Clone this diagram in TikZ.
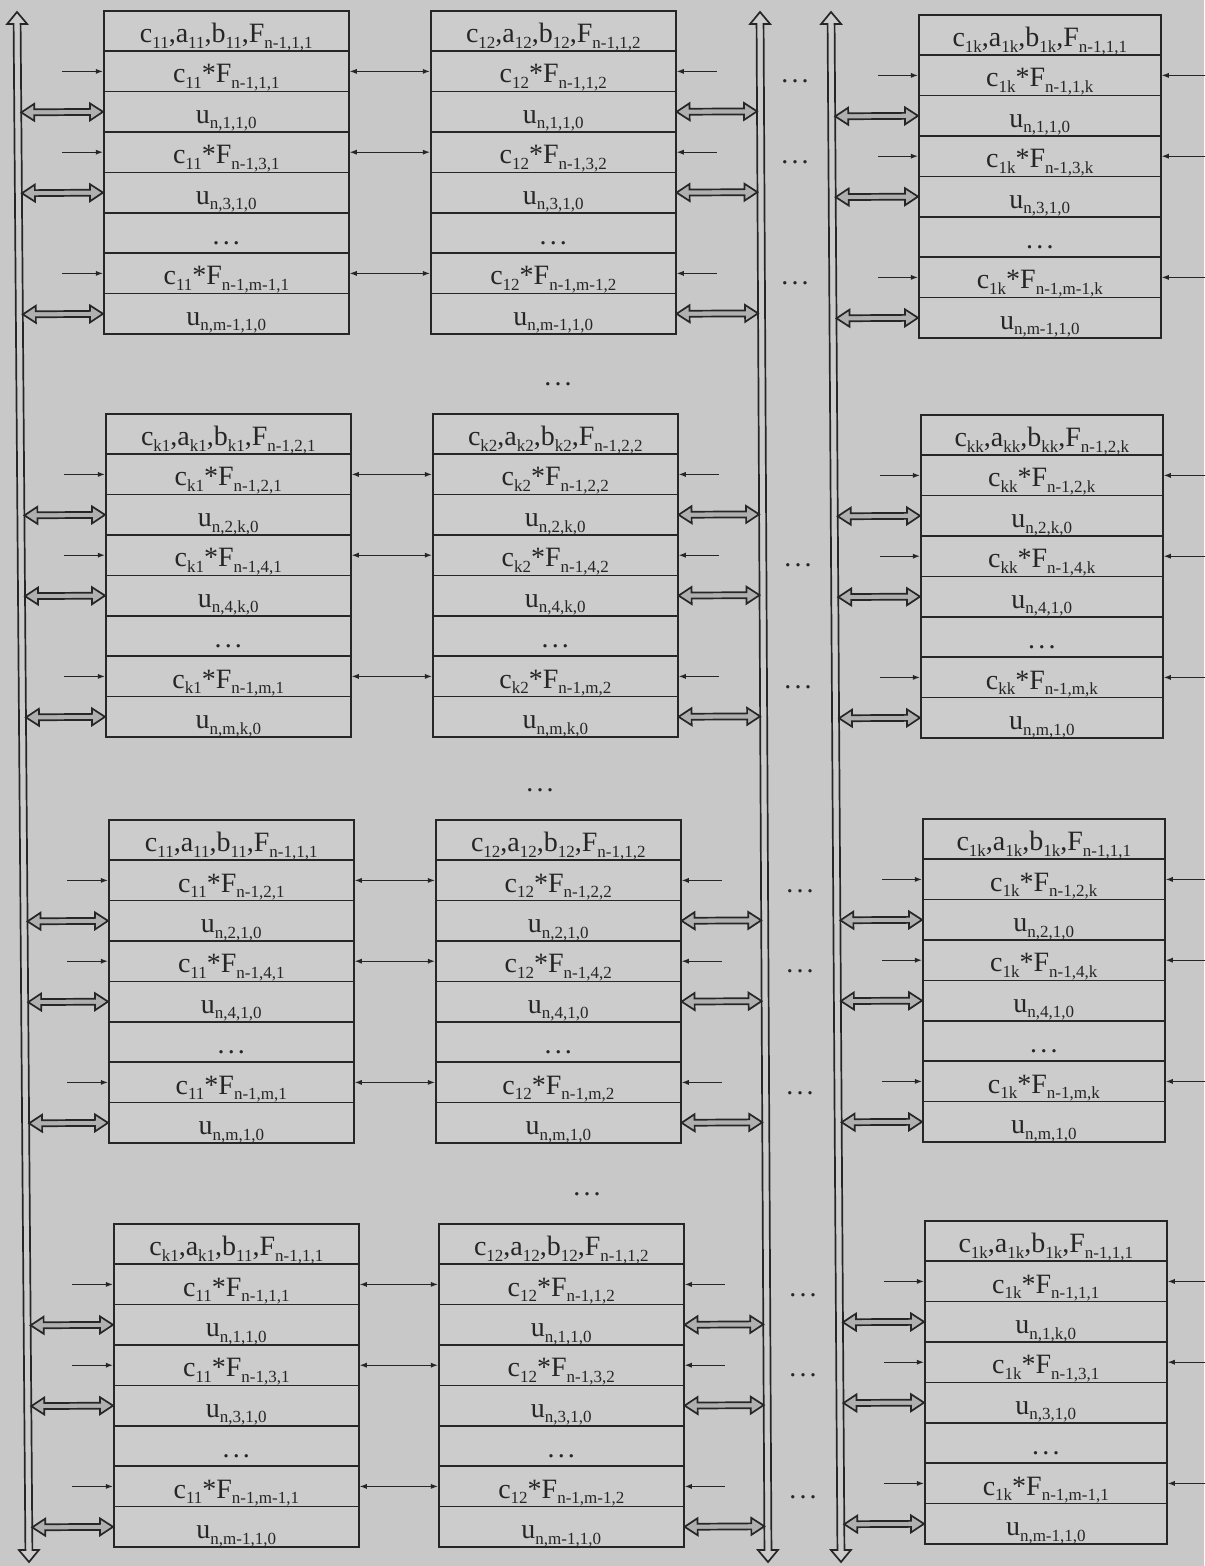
\documentclass[tikz,border=0pt]{standalone}
\usepackage{fontspec}
\setmainfont{Liberation Serif}
\usetikzlibrary{calc,arrows.meta}
\definecolor{bg}{HTML}{C8C8C8}
\definecolor{cellc}{HTML}{CCCCCC}
\definecolor{ink}{HTML}{262626}
\definecolor{hfill}{HTML}{B0B0B0}
\newcommand\sbs[1]{\raisebox{-2.8pt}{\fontsize{8.5}{9}\selectfont #1}}
\newcommand\ddd{.\kern1.6pt.\kern1.6pt.}
\newcommand\blk[5]{%
  \foreach \t [count=\i] in {#5}{%
    \node[cellbox, minimum width=#4*0.5pt, anchor=north west] (#1-\i) at (#2,{#3+40.4*(\i-1)}) {\t};
  }}
\tikzset{
  cellbox/.style={draw=ink, line width=0.8pt, fill=cellc, inner sep=0pt, minimum height=20.2pt,
    text height=12pt, text depth=0.4pt, text=ink, font=\fontsize{14}{16}\selectfont},
  thinarr/.style={draw=ink, line width=0.6pt, -{Latex[length=3.6pt,width=2.6pt]}},
  thinboth/.style={draw=ink, line width=0.6pt, {Latex[length=3.6pt,width=2.6pt]}-{Latex[length=3.6pt,width=2.6pt]}},
  dotnode/.style={text=ink, font=\fontsize{14}{16}\selectfont, inner sep=0pt, anchor=base},
  hollow/.style n args={3}{draw=ink, fill=hfill, line width=0.85pt, line join=miter,
    to path={-- ($(\tikztostart)!#1!(\tikztotarget)!#2!90:(\tikztotarget)$)
      -- ($(\tikztostart)!#1!(\tikztotarget)!#3!90:(\tikztotarget)$)
      -- ($(\tikztotarget)!#1!(\tikztostart)!#3!-90:(\tikztostart)$)
      -- ($(\tikztotarget)!#1!(\tikztostart)!#2!-90:(\tikztostart)$)
      -- (\tikztotarget)
      -- ($(\tikztotarget)!#1!(\tikztostart)!#2!90:(\tikztostart)$)
      -- ($(\tikztotarget)!#1!(\tikztostart)!#3!90:(\tikztostart)$)
      -- ($(\tikztostart)!#1!(\tikztotarget)!#3!-90:(\tikztotarget)$)
      -- ($(\tikztostart)!#1!(\tikztotarget)!#2!-90:(\tikztotarget)$)
      -- cycle}},
  hollowh/.style={hollow={6.5pt}{4.25pt}{1.5pt}},
  busarr/.style={hollow={6pt}{5pt}{1.75pt}, fill=cellc},
}
\begin{document}
\begin{tikzpicture}[x=0.5pt,y=-0.5pt]
\useasboundingbox (0,0) rectangle (1204,1566);
\fill[bg] (0,0) rectangle (1204,1566);

% buses
\coordinate (busAtop) at (17,12);   \coordinate (busAbot) at (29,1562);
\coordinate (busBtop) at (760,12);  \coordinate (busBbot) at (768,1562);
\coordinate (busCtop) at (831,12);  \coordinate (busCbot) at (841,1562);
\draw[busarr] (busAtop) to (busAbot);
\draw[busarr] (busBtop) to (busBbot);
\draw[busarr] (busCtop) to (busCbot);
\coordinate (rim) at (1210,0);

% row 1
\blk{B11}{103}{10}{245}{{c\sbs{11},a\sbs{11},b\sbs{11},F\sbs{n-1,1,1}},{c\sbs{11}*F\sbs{n-1,1,1}},{u\sbs{n,1,1,0}},{c\sbs{11}*F\sbs{n-1,3,1}},{u\sbs{n,3,1,0}},\ddd,{c\sbs{11}*F\sbs{n-1,m-1,1}},{u\sbs{n,m-1,1,0}}}
\blk{B12}{430}{10}{245}{{c\sbs{12},a\sbs{12},b\sbs{12},F\sbs{n-1,1,2}},{c\sbs{12}*F\sbs{n-1,1,2}},{u\sbs{n,1,1,0}},{c\sbs{12}*F\sbs{n-1,3,2}},{u\sbs{n,3,1,0}},\ddd,{c\sbs{12}*F\sbs{n-1,m-1,2}},{u\sbs{n,m-1,1,0}}}
\blk{B13}{918}{14}{242}{{c\sbs{1k},a\sbs{1k},b\sbs{1k},F\sbs{n-1,1,1}},{c\sbs{1k}*F\sbs{n-1,1,k}},{u\sbs{n,1,1,0}},{c\sbs{1k}*F\sbs{n-1,3,k}},{u\sbs{n,3,1,0}},\ddd,{c\sbs{1k}*F\sbs{n-1,m-1,k}},{u\sbs{n,m-1,1,0}}}
% row 2
\blk{B21}{105}{413}{245}{{c\sbs{k1},a\sbs{k1},b\sbs{k1},F\sbs{n-1,2,1}},{c\sbs{k1}*F\sbs{n-1,2,1}},{u\sbs{n,2,k,0}},{c\sbs{k1}*F\sbs{n-1,4,1}},{u\sbs{n,4,k,0}},\ddd,{c\sbs{k1}*F\sbs{n-1,m,1}},{u\sbs{n,m,k,0}}}
\blk{B22}{432}{413}{245}{{c\sbs{k2},a\sbs{k2},b\sbs{k2},F\sbs{n-1,2,2}},{c\sbs{k2}*F\sbs{n-1,2,2}},{u\sbs{n,2,k,0}},{c\sbs{k2}*F\sbs{n-1,4,2}},{u\sbs{n,4,k,0}},\ddd,{c\sbs{k2}*F\sbs{n-1,m,2}},{u\sbs{n,m,k,0}}}
\blk{B23}{920}{414}{242}{{c\sbs{kk},a\sbs{kk},b\sbs{kk},F\sbs{n-1,2,k}},{c\sbs{kk}*F\sbs{n-1,2,k}},{u\sbs{n,2,k,0}},{c\sbs{kk}*F\sbs{n-1,4,k}},{u\sbs{n,4,1,0}},\ddd,{c\sbs{kk}*F\sbs{n-1,m,k}},{u\sbs{n,m,1,0}}}
% row 3
\blk{B31}{108}{819}{245}{{c\sbs{11},a\sbs{11},b\sbs{11},F\sbs{n-1,1,1}},{c\sbs{11}*F\sbs{n-1,2,1}},{u\sbs{n,2,1,0}},{c\sbs{11}*F\sbs{n-1,4,1}},{u\sbs{n,4,1,0}},\ddd,{c\sbs{11}*F\sbs{n-1,m,1}},{u\sbs{n,m,1,0}}}
\blk{B32}{435}{819}{245}{{c\sbs{12},a\sbs{12},b\sbs{12},F\sbs{n-1,1,2}},{c\sbs{12}*F\sbs{n-1,2,2}},{u\sbs{n,2,1,0}},{c\sbs{12}*F\sbs{n-1,4,2}},{u\sbs{n,4,1,0}},\ddd,{c\sbs{12}*F\sbs{n-1,m,2}},{u\sbs{n,m,1,0}}}
\blk{B33}{922}{818}{242}{{c\sbs{1k},a\sbs{1k},b\sbs{1k},F\sbs{n-1,1,1}},{c\sbs{1k}*F\sbs{n-1,2,k}},{u\sbs{n,2,1,0}},{c\sbs{1k}*F\sbs{n-1,4,k}},{u\sbs{n,4,1,0}},\ddd,{c\sbs{1k}*F\sbs{n-1,m,k}},{u\sbs{n,m,1,0}}}
% row 4
\blk{B41}{113}{1223}{245}{{c\sbs{k1},a\sbs{k1},b\sbs{11},F\sbs{n-1,1,1}},{c\sbs{11}*F\sbs{n-1,1,1}},{u\sbs{n,1,1,0}},{c\sbs{11}*F\sbs{n-1,3,1}},{u\sbs{n,3,1,0}},\ddd,{c\sbs{11}*F\sbs{n-1,m-1,1}},{u\sbs{n,m-1,1,0}}}
\blk{B42}{438}{1223}{245}{{c\sbs{12},a\sbs{12},b\sbs{12},F\sbs{n-1,1,2}},{c\sbs{12}*F\sbs{n-1,1,2}},{u\sbs{n,1,1,0}},{c\sbs{12}*F\sbs{n-1,3,2}},{u\sbs{n,3,1,0}},\ddd,{c\sbs{12}*F\sbs{n-1,m-1,2}},{u\sbs{n,m-1,1,0}}}
\blk{B43}{924}{1220}{242}{{c\sbs{1k},a\sbs{1k},b\sbs{1k},F\sbs{n-1,1,1}},{c\sbs{1k}*F\sbs{n-1,1,1}},{u\sbs{n,1,k,0}},{c\sbs{1k}*F\sbs{n-1,3,1}},{u\sbs{n,3,1,0}},\ddd,{c\sbs{1k}*F\sbs{n-1,m-1,1}},{u\sbs{n,m-1,1,0}}}

% connectors
\foreach \r in {1,2,3,4}{
  \foreach \i in {2,4,7}{
    \coordinate (L\r-\i) at ([xshift=-20.5pt]B\r1-\i.west);
    \draw[thinarr] (L\r-\i) -- (B\r1-\i.west);
    \draw[thinboth] (B\r1-\i.east) -- (B\r2-\i.west);
    \coordinate (R\r-\i) at ([xshift=20pt]B\r2-\i.east);
    \draw[thinarr] (R\r-\i) -- (B\r2-\i.east);
    \coordinate (M\r-\i) at ([xshift=-20pt]B\r3-\i.west);
    \draw[thinarr] (M\r-\i) -- (B\r3-\i.west);
    \coordinate (E\r-\i) at (B\r3-\i.east -| rim);
    \draw[thinarr] (E\r-\i) -- (B\r3-\i.east);
  }
  \foreach \i in {3,5,8}{
    \coordinate (PA\r-\i) at ($(busAtop)!(B\r1-\i.west)!(busAbot)+(3.5,0)$);
    \draw[hollowh] (PA\r-\i) to (B\r1-\i.west);
    \coordinate (PB\r-\i) at ($(busBtop)!(B\r2-\i.east)!(busBbot)+(-3.5,0)$);
    \draw[hollowh] (B\r2-\i.east) to (PB\r-\i);
    \coordinate (PC\r-\i) at ($(busCtop)!(B\r3-\i.west)!(busCbot)+(3.5,0)$);
    \draw[hollowh] (PC\r-\i) to (B\r3-\i.west);
  }
}

% dots between the buses
\coordinate (dx1) at (795,0);
\coordinate (dx2) at (798,0);
\coordinate (dx3) at (800,0);
\coordinate (dx4) at (803,0);
\foreach \i in {2,4,7}{\node[dotnode] (D1-\i) at (dx1 |- B12-\i.base) {\ddd};}
\foreach \i in {4,7}{\node[dotnode] (D2-\i) at (dx2 |- B22-\i.base) {\ddd};}
\foreach \i in {2,4,7}{\node[dotnode] (D3-\i) at (dx3 |- B32-\i.base) {\ddd};}
\foreach \i in {2,4,7}{\node[dotnode] (D4-\i) at (dx4 |- B42-\i.base) {\ddd};}

% dots between block rows
\node[dotnode] (G1) at (558,386) {\ddd};
\node[dotnode] (G2) at (540,791) {\ddd};
\node[dotnode] (G3) at (587,1195) {\ddd};
\end{tikzpicture}
\end{document}
